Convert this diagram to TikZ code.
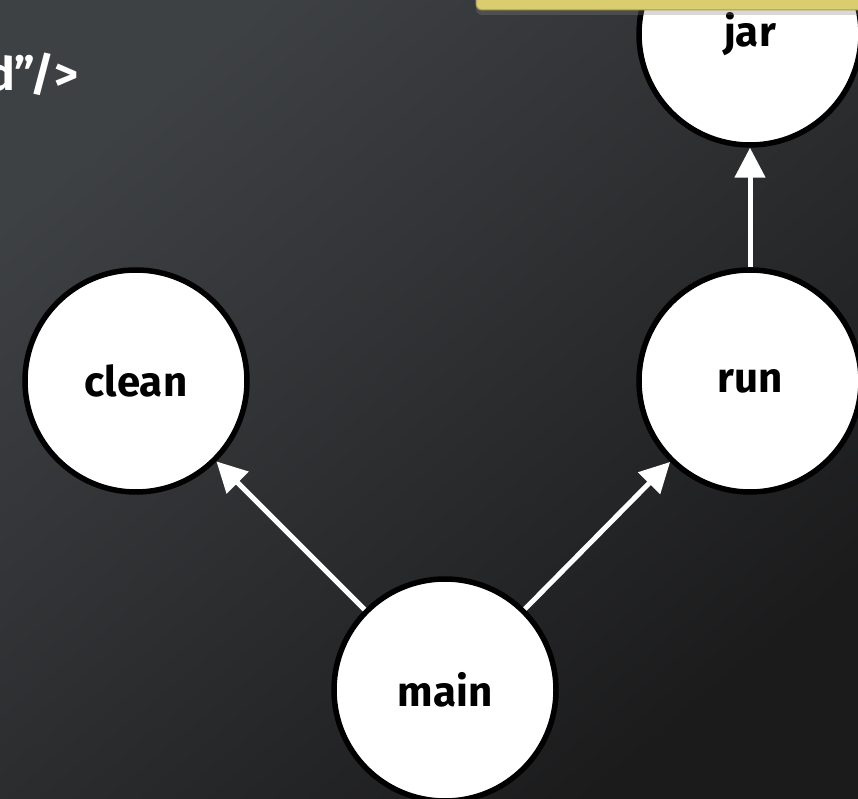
\documentclass[tikz,border=0pt]{standalone}
\usepackage{fontspec}
\setmainfont{Fira Sans}
\usetikzlibrary{arrows.meta,shadows}

\definecolor{bgLight}{HTML}{3E4144}
\definecolor{bgDark}{HTML}{1B1B1C}
\definecolor{noteYellow}{HTML}{D9CD6F}
\definecolor{noteEdge}{HTML}{A99C45}

\begin{document}
\begin{tikzpicture}[x=1pt,y=1pt,
  task/.style={circle,draw=black,line width=5.5pt,fill=white,
    minimum size=222pt,inner sep=0pt,
    font=\fontsize{42}{42}\selectfont\bfseries},
  dep/.style={draw=white,line width=5pt,
    -{Triangle[length=30pt,width=30pt]}}]

\useasboundingbox (0,0) rectangle (858,798);
\shade[top color=bgLight,bottom color=bgDark,shading angle=40]
  (0,0) rectangle (858,798);

% tasks
\node[task] (jar) at (750,764) {jar};
\node[task] (clean) at (136,417) {clean};
\node[task] (run) at (750,417) {run};
\node[task] (main) at (445,108) {main};

% dependencies
\draw[dep] (main) -- (clean);
\draw[dep] (main) -- (run);
\draw[dep] (run) -- (jar);

% callout and code text
\filldraw[fill=noteYellow,draw=noteEdge,line width=1pt,rounded corners=6pt,
  drop shadow={shadow xshift=0pt,shadow yshift=-5pt,opacity=.3}]
  (476,788) rectangle (880,830);
\node[anchor=base east,text=white,
  font=\fontsize{46}{46}\selectfont\bfseries] (code) at (82,707)
  {d\symbol{34}/>};

\end{tikzpicture}
\end{document}
